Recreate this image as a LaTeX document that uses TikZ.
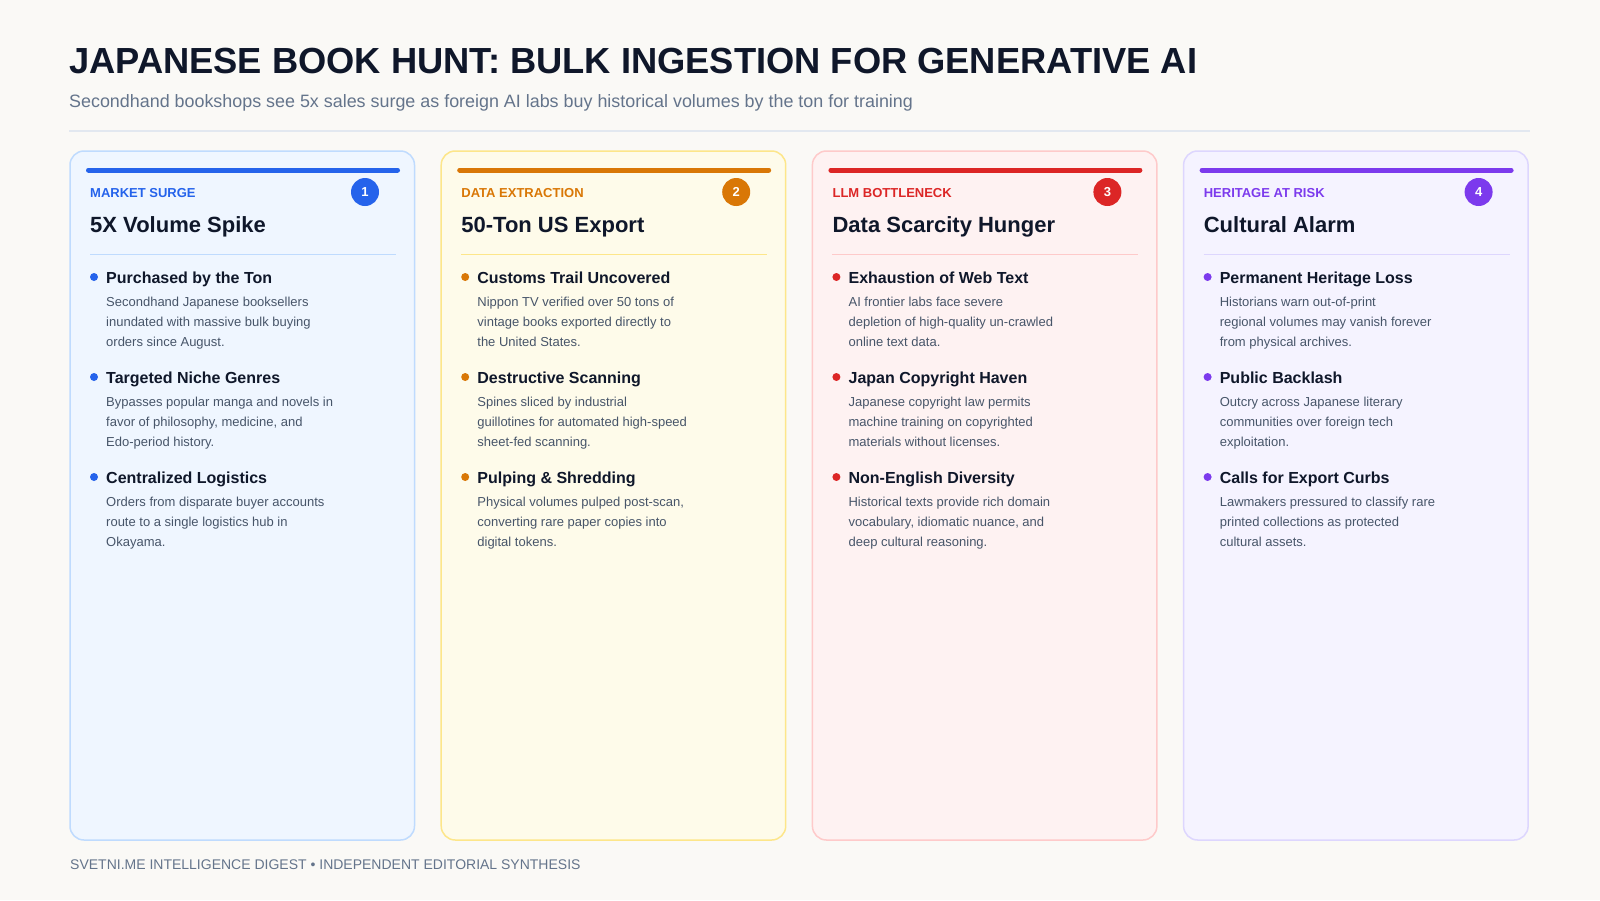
\documentclass[tikz,border=0pt]{standalone}
\usepackage{fontspec}
\setmainfont{Liberation Sans}
\definecolor{bg}{HTML}{FAF9F6}
\definecolor{ink}{HTML}{0F172A}
\definecolor{muted}{HTML}{64748B}
\definecolor{body}{HTML}{475569}
\definecolor{rulecol}{HTML}{E2E8F0}
\definecolor{blueA}{HTML}{2563EB}
\definecolor{blueF}{HTML}{EFF6FF}
\definecolor{blueB}{HTML}{BFDBFE}
\definecolor{amberA}{HTML}{D97706}
\definecolor{amberF}{HTML}{FEFBEA}
\definecolor{amberB}{HTML}{FDE68A}
\definecolor{redA}{HTML}{DC2626}
\definecolor{redF}{HTML}{FEF2F2}
\definecolor{redB}{HTML}{FECACA}
\definecolor{violetA}{HTML}{7C3AED}
\definecolor{violetF}{HTML}{F5F3FF}
\definecolor{violetB}{HTML}{DDD6FE}
\begin{document}
\begin{tikzpicture}[x=1pt,y=-1pt,
    cardbox/.style={rounded corners=14pt, line width=1.5pt},
    topbar/.style={line width=5pt, line cap=round},
    tag/.style={anchor=base west, inner sep=0, font=\fontsize{13}{15}\selectfont\bfseries},
    badge/.style={circle, minimum size=28pt, inner sep=0, text=white, font=\fontsize{13}{15}\selectfont\bfseries},
    cardtitle/.style={anchor=base west, inner sep=0, text=ink, font=\fontsize{22}{26}\selectfont\bfseries},
    dot/.style={circle, minimum size=8pt, inner sep=0},
    head/.style={anchor=base west, inner sep=0, text=ink, font=\fontsize{16}{19}\selectfont\bfseries},
    desc/.style={anchor=north west, inner sep=0, align=left, text=body, font=\fontsize{13}{20}\selectfont}]
    \fill[bg] (0,0) rectangle (1600,900);
    \useasboundingbox (0,0) rectangle (1600,900);

    % header
    \node[anchor=base west, inner sep=0, text=ink, font=\fontsize{36.3}{40}\selectfont\bfseries] (title) at (69,73) {JAPANESE BOOK HUNT: BULK INGESTION FOR GENERATIVE AI};
    \node[anchor=base west, inner sep=0, text=muted, font=\fontsize{17.9}{21}\selectfont] (subtitle) at (69,107) {Secondhand bookshops see 5x sales surge as foreign AI labs buy historical volumes by the ton for training};
    \draw[rulecol, line width=2pt] (69,131) -- (1530,131);

    % card 1
    \begin{scope}[xshift=0pt]
        \draw[cardbox, fill=blueF, draw=blueB] (70,151) rectangle (414.5,840);
        \draw[topbar, blueA] (88.5,170) -- (397.5,170);
        \node[tag, text=blueA] (tag_1) at (90,197) {MARKET SURGE};
        \node[badge, fill=blueA] (badge_1) at (365,192) {1};
        \node[cardtitle] (title_1) at (90,232) {5X Volume Spike};
        \draw[blueB] (90,254) -- (396,254);
        \node[dot, fill=blueA] (dot_1a) at (94,277) {};
        \node[head] (head_1a) at (106,283) {Purchased by the Ton};
        \node[desc] (desc_1a) at (106,292) {\strut Secondhand Japanese booksellers\\inundated with massive bulk buying\\orders since August.};
        \node[dot, fill=blueA] (dot_1b) at (94,377) {};
        \node[head] (head_1b) at (106,383) {Targeted Niche Genres};
        \node[desc] (desc_1b) at (106,392) {\strut Bypasses popular manga and novels in\\favor of philosophy, medicine, and\\Edo-period history.};
        \node[dot, fill=blueA] (dot_1c) at (94,477) {};
        \node[head] (head_1c) at (106,483) {Centralized Logistics};
        \node[desc] (desc_1c) at (106,492) {\strut Orders from disparate buyer accounts\\route to a single logistics hub in\\Okayama.};
    \end{scope}

    % card 2
    \begin{scope}[xshift=371.2pt]
        \draw[cardbox, fill=amberF, draw=amberB] (70,151) rectangle (414.5,840);
        \draw[topbar, amberA] (88.5,170) -- (397.5,170);
        \node[tag, text=amberA] (tag_2) at (90,197) {DATA EXTRACTION};
        \node[badge, fill=amberA] (badge_2) at (365,192) {2};
        \node[cardtitle] (title_2) at (90,232) {50-Ton US Export};
        \draw[amberB] (90,254) -- (396,254);
        \node[dot, fill=amberA] (dot_2a) at (94,277) {};
        \node[head] (head_2a) at (106,283) {Customs Trail Uncovered};
        \node[desc] (desc_2a) at (106,292) {\strut Nippon TV verified over 50 tons of\\vintage books exported directly to\\the United States.};
        \node[dot, fill=amberA] (dot_2b) at (94,377) {};
        \node[head] (head_2b) at (106,383) {Destructive Scanning};
        \node[desc] (desc_2b) at (106,392) {\strut Spines sliced by industrial\\guillotines for automated high-speed\\sheet-fed scanning.};
        \node[dot, fill=amberA] (dot_2c) at (94,477) {};
        \node[head] (head_2c) at (106,483) {Pulping \& Shredding};
        \node[desc] (desc_2c) at (106,492) {\strut Physical volumes pulped post-scan,\\converting rare paper copies into\\digital tokens.};
    \end{scope}

    % card 3
    \begin{scope}[xshift=742.4pt]
        \draw[cardbox, fill=redF, draw=redB] (70,151) rectangle (414.5,840);
        \draw[topbar, redA] (88.5,170) -- (397.5,170);
        \node[tag, text=redA] (tag_3) at (90,197) {LLM BOTTLENECK};
        \node[badge, fill=redA] (badge_3) at (365,192) {3};
        \node[cardtitle] (title_3) at (90,232) {Data Scarcity Hunger};
        \draw[redB] (90,254) -- (396,254);
        \node[dot, fill=redA] (dot_3a) at (94,277) {};
        \node[head] (head_3a) at (106,283) {Exhaustion of Web Text};
        \node[desc] (desc_3a) at (106,292) {\strut AI frontier labs face severe\\depletion of high-quality un-crawled\\online text data.};
        \node[dot, fill=redA] (dot_3b) at (94,377) {};
        \node[head] (head_3b) at (106,383) {Japan Copyright Haven};
        \node[desc] (desc_3b) at (106,392) {\strut Japanese copyright law permits\\machine training on copyrighted\\materials without licenses.};
        \node[dot, fill=redA] (dot_3c) at (94,477) {};
        \node[head] (head_3c) at (106,483) {Non-English Diversity};
        \node[desc] (desc_3c) at (106,492) {\strut Historical texts provide rich domain\\vocabulary, idiomatic nuance, and\\deep cultural reasoning.};
    \end{scope}

    % card 4
    \begin{scope}[xshift=1113.6pt]
        \draw[cardbox, fill=violetF, draw=violetB] (70,151) rectangle (414.5,840);
        \draw[topbar, violetA] (88.5,170) -- (397.5,170);
        \node[tag, text=violetA] (tag_4) at (90,197) {HERITAGE AT RISK};
        \node[badge, fill=violetA] (badge_4) at (365,192) {4};
        \node[cardtitle] (title_4) at (90,232) {Cultural Alarm};
        \draw[violetB] (90,254) -- (396,254);
        \node[dot, fill=violetA] (dot_4a) at (94,277) {};
        \node[head] (head_4a) at (106,283) {Permanent Heritage Loss};
        \node[desc] (desc_4a) at (106,292) {\strut Historians warn out-of-print\\regional volumes may vanish forever\\from physical archives.};
        \node[dot, fill=violetA] (dot_4b) at (94,377) {};
        \node[head] (head_4b) at (106,383) {Public Backlash};
        \node[desc] (desc_4b) at (106,392) {\strut Outcry across Japanese literary\\communities over foreign tech\\exploitation.};
        \node[dot, fill=violetA] (dot_4c) at (94,477) {};
        \node[head] (head_4c) at (106,483) {Calls for Export Curbs};
        \node[desc] (desc_4c) at (106,492) {\strut Lawmakers pressured to classify rare\\printed collections as protected\\cultural assets.};
    \end{scope}

    % footer
    \node[anchor=base west, inner sep=0, text=muted, font=\fontsize{14}{16}\selectfont] (footer) at (70,869) {SVETNI.ME INTELLIGENCE DIGEST • INDEPENDENT EDITORIAL SYNTHESIS};
\end{tikzpicture}
\end{document}
